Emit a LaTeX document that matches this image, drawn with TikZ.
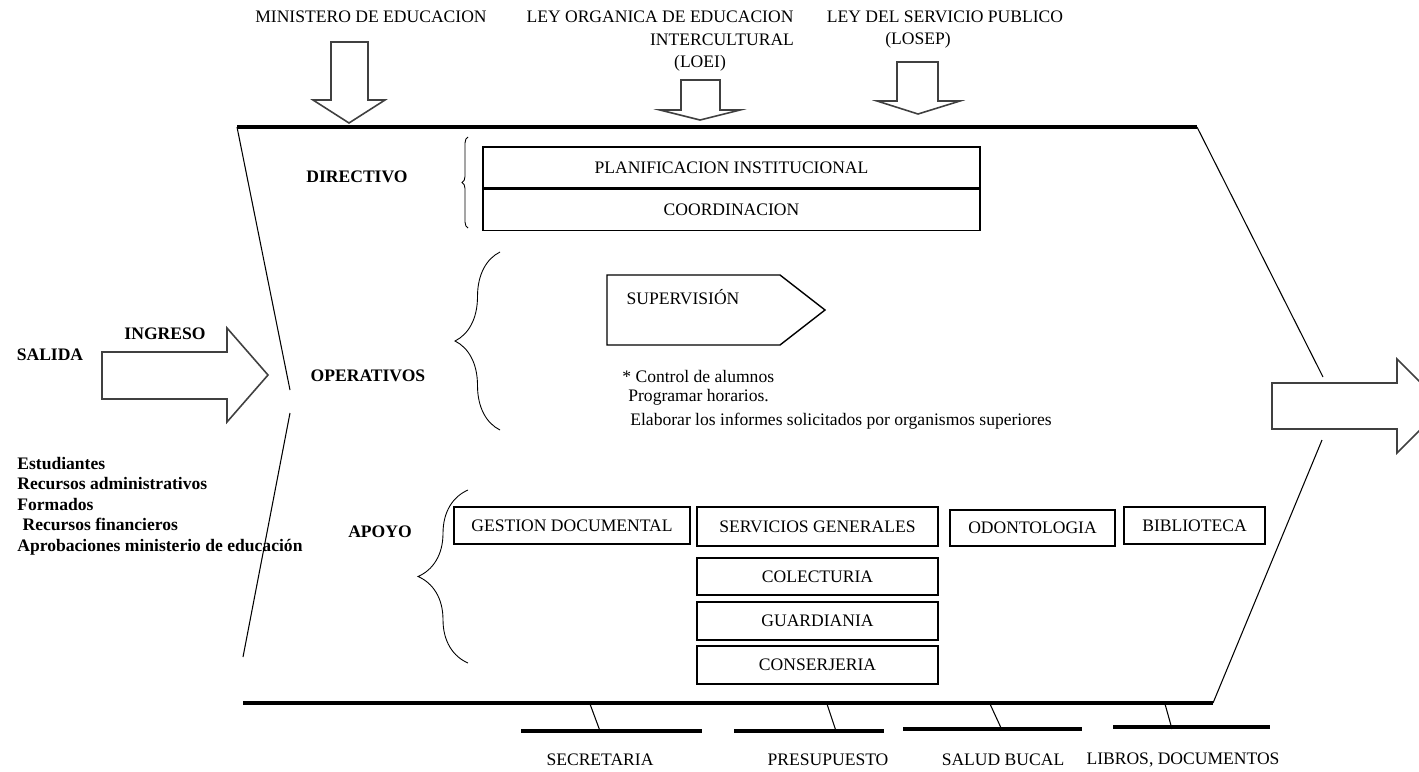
\documentclass[tikz,border=0pt]{standalone}
\usepackage{fontspec}
\setmainfont{Liberation Serif}
\usetikzlibrary{positioning,decorations.pathreplacing}

\newcommand{\fs}{\fontsize{10}{11.6}\selectfont}

\tikzset{
  box/.style={draw, line width=0.8pt, inner sep=0pt, font=\fs},
  lbl/.style={inner sep=0pt, font=\fs},
  blbl/.style={inner sep=0pt, font=\fs\bfseries},
  thickline/.style={line width=2.6pt},
  branch/.style={line width=1.8pt},
  slant/.style={line width=0.6pt},
  fatarrow/.style={draw=black!75, line width=0.9pt, line join=miter},
  curly/.style={decorate, decoration={brace, amplitude=#1}, line width=0.5pt}
}

\begin{document}
\begin{tikzpicture}[x=0.02cm, y=-0.02cm]
\clip (0,0) rectangle (1419,771);

% frame
\coordinate (tl) at (237,127);
\coordinate (tr) at (1197,127);
\coordinate (bl) at (243,703);
\coordinate (br) at (1213,703);
\coordinate (lm1) at (290,390);
\coordinate (lm2) at (290,413);
\coordinate (rm1) at (1323,377);
\coordinate (rm2) at (1322,440);
\draw[thickline] (tl) -- (tr);
\draw[thickline] (bl) -- (br);
\draw[slant] (tl) -- (lm1);
\draw[slant] (lm2) -- (243,657);
\draw[slant] (tr) -- (rm1);
\draw[slant] (rm2) -- (br);

% top inputs
\node[lbl] (min) at (371,17) {MINISTERO DE EDUCACION};
\node[lbl] (loei1) at (660,17) {LEY ORGANICA DE EDUCACION};
\node[lbl] (loei2) at (722,40) {INTERCULTURAL};
\node[lbl] (loei3) at (700,63) {(LOEI)};
\node[lbl] (losep1) at (945,17) {LEY DEL SERVICIO PUBLICO};
\node[lbl] (losep2) at (918,40) {(LOSEP)};

\draw[fatarrow] (331,42) -- (368,42) -- (368,100) -- (385,100) -- (349,123)
  -- (313,100) -- (331,100) -- cycle;
\draw[fatarrow] (681,80) -- (720,80) -- (720,110) -- (740,110) -- (700,120)
  -- (660,110) -- (681,110) -- cycle;
\draw[fatarrow] (897,62) -- (938,62) -- (938,101) -- (960,101) -- (918,114)
  -- (877,101) -- (897,101) -- cycle;

% left side
\node[blbl] (salida) at (50,355) {SALIDA};
\node[blbl] (ingreso) at (165,334) {INGRESO};
\draw[fatarrow] (102,352) -- (227,352) -- (227,328) -- (268,375) -- (227,422)
  -- (227,399) -- (102,399) -- cycle;
\node[blbl, anchor=north west, align=left] (recursos) at (17,457)
  {Estudiantes\\Recursos administrativos\\Formados\\\hspace{3pt}Recursos financieros\\Aprobaciones ministerio de educación};

% right output
\draw[fatarrow] (1272,383) -- (1397,383) -- (1397,359) -- (1444,406) -- (1397,453)
  -- (1397,429) -- (1272,429) -- cycle;

% directivo
\node[blbl] (directivo) at (357,177) {DIRECTIVO};
\draw[curly=0.12cm] (468,228) -- (468,137);
\node[box, minimum width=9.94cm, minimum height=0.82cm] (plan) at (731.5,167.5) {PLANIFICACION INSTITUCIONAL};
\node[box, minimum width=9.94cm, minimum height=0.82cm, below=0pt of plan] (coord) {COORDINACION};

% operativos
\node[blbl] (operativos) at (368,376) {OPERATIVOS};
\draw[curly=0.9cm] (500,430) -- (500,252);
\coordinate (sv1) at (607,275);
\coordinate (sv2) at (780,275);
\coordinate (sv3) at (825,310);
\coordinate (sv4) at (780,345);
\coordinate (sv5) at (607,345);
\draw[line width=0.8pt] (sv1) -- (sv2) -- (sv3) -- (sv4) -- (sv5) -- cycle;
\node[lbl] (superv) at (683,297) {SUPERVISIÓN};
\node[lbl, anchor=west] (tarea1) at (622,376) {* Control de alumnos};
\node[lbl, anchor=west] (tarea2) at (628,397) {Programar horarios.};
\node[lbl, anchor=west] (tarea3) at (630,421) {Elaborar los informes solicitados por organismos superiores};

% apoyo
\node[blbl] (apoyo) at (380,532) {APOYO};
\draw[curly=1.0cm] (468,663) -- (468,490);
\node[box, minimum width=4.72cm, minimum height=0.74cm] (gestion) at (572,525.5) {GESTION DOCUMENTAL};
\node[box, minimum width=4.82cm, minimum height=0.78cm] (servicios) at (817.5,526.5) {SERVICIOS GENERALES};
\node[box, minimum width=3.3cm, minimum height=0.72cm] (odonto) at (1032.5,528) {ODONTOLOGIA};
\node[box, minimum width=2.82cm, minimum height=0.74cm] (biblio) at (1194.5,525.5) {BIBLIOTECA};
\node[box, minimum width=4.82cm, minimum height=0.74cm] (colect) at (817.5,576.5) {COLECTURIA};
\node[box, minimum width=4.82cm, minimum height=0.76cm] (guard) at (817.5,621) {GUARDIANIA};
\node[box, minimum width=4.82cm, minimum height=0.76cm] (conser) at (817.5,665) {CONSERJERIA};

% bottom branches
\coordinate (b1) at (590,704);
\coordinate (b2) at (827,704);
\coordinate (b3) at (990,704);
\coordinate (b4) at (1165,704);
\coordinate (s1) at (600,731);
\coordinate (s2) at (836,731);
\coordinate (s3) at (1002,730);
\coordinate (s4) at (1172,729);
\draw[branch] (521,731) -- (702,731);
\draw[branch] (734,731) -- (884,731);
\draw[branch] (903,729) -- (1082,729);
\draw[branch] (1113,727) -- (1270,727);
\draw[slant] (b1) -- (s1);
\draw[slant] (b2) -- (s2);
\draw[slant] (b3) -- (s3);
\draw[slant] (b4) -- (s4);
\node[lbl] (secre) at (600,760) {SECRETARIA};
\node[lbl] (presu) at (828,760) {PRESUPUESTO};
\node[lbl] (salud) at (1003,760) {SALUD BUCAL};
\node[lbl] (libros) at (1183,760) {LIBROS, DOCUMENTOS};
\end{tikzpicture}
\end{document}
